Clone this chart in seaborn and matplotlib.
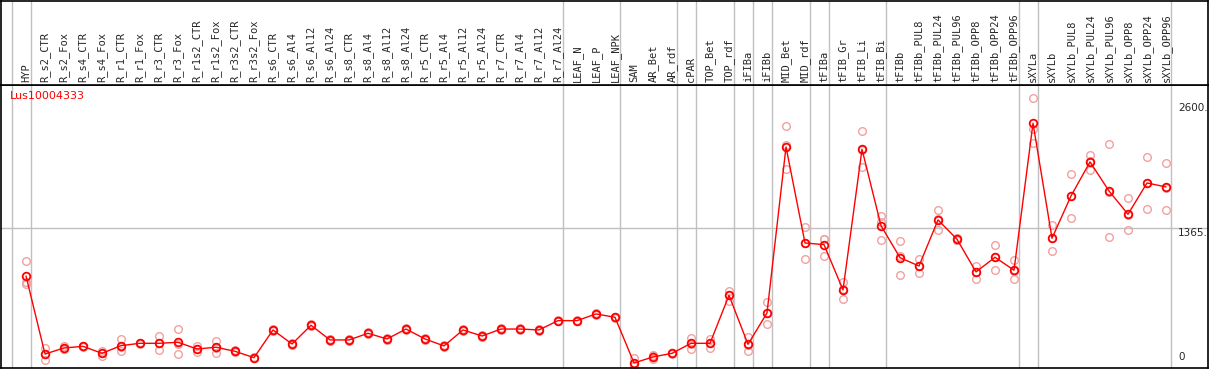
import pandas as pd
import matplotlib
matplotlib.use("Agg")
import matplotlib.pyplot as plt
import seaborn as sns

# column labels (tissues / treatments)
samples = ["HYP", "R_s2_CTR", "R_s2_Fox", "R_s4_CTR", "R_s4_Fox", "R_r1_CTR", "R_r1_Fox",
           "R_r3_CTR", "R_r3_Fox", "R_r1s2_CTR", "R_r1s2_Fox", "R_r3s2_CTR", "R_r3s2_Fox",
           "R_s6_CTR", "R_s6_Al4", "R_s6_Al12", "R_s6_Al24", "R_s8_CTR", "R_s8_Al4",
           "R_s8_Al12", "R_s8_Al24", "R_r5_CTR", "R_r5_Al4", "R_r5_Al12", "R_r5_Al24",
           "R_r7_CTR", "R_r7_Al4", "R_r7_Al12", "R_r7_Al24", "LEAF_N", "LEAF_P", "LEAF_NPK",
           "SAM", "AR_Bet", "AR_rdf", "cPAR", "TOP_Bet", "TOP_rdf", "iFIBa", "iFIBb",
           "MID_Bet", "MID_rdf", "tFIBa", "tFIB_Gr", "tFIB_Li", "tFIB_Bi", "tFIBb",
           "tFIBb_PUL8", "tFIBb_PUL24", "tFIBb_PUL96", "tFIBb_OPP8", "tFIBb_OPP24",
           "tFIBb_OPP96", "sXYLa", "sXYLb", "sXYLb_PUL8", "sXYLb_PUL24", "sXYLb_PUL96",
           "sXYLb_OPP8", "sXYLb_OPP24", "sXYLb_OPP96"]

# mean expression per sample
means = [894, 123, 183, 199, 130, 206, 229, 229, 239, 173, 190, 150, 87,
         361, 222, 407, 262, 262, 328, 272, 370, 272, 203, 361, 301, 370, 370, 361, 453,
         453, 519, 486, 35, 94, 130, 229, 229, 703, 219, 529, 2169, 1220, 1204, 756,
         2146, 1391, 1075, 993, 1448, 1257, 934, 1079, 951, 2403, 1267, 1685, 2021,
         1734, 1504, 1813, 1774]

# replicates
rep1 = [1039, 180, 206, 205, 156, 272, 236, 298, 370, 200, 252, 160, 95,
        370, 230, 415, 270, 268, 336, 280, 378, 280, 210, 368, 308, 377, 377, 368, 460,
        460, 526, 493, 81, 110, 138, 285, 272, 749, 295, 637, 2373, 1378, 1263, 838,
        2327, 1487, 1237, 1062, 1543, 1270, 996, 1201, 1049, 2650, 1395, 1902, 2093,
        2199, 1665, 2070, 2011]
rep2 = [812, 64, 170, 190, 104, 153, 222, 160, 120, 146, 136, 140, 80,
        352, 214, 400, 255, 256, 320, 265, 362, 264, 196, 354, 294, 363, 363, 354, 446,
        446, 512, 479, 0, 71, 122, 176, 186, 650, 153, 417, 1949, 1059, 1089, 664,
        1968, 1250, 901, 921, 1346, 1250, 868, 951, 861, 2206, 1138, 1464, 1942,
        1280, 1346, 1553, 1546]
rep3 = [838, 125, 173, 202, 130, 193, 229, 229, 227, 173, 182, 150, 86,
        361, 222, 406, 261, 262, 328, 271, 370, 272, 203, 361, 301, 370, 370, 361, 453,
        453, 519, 486, 24, 101, 130, 226, 229, 710, 210, 533, 2185, 1223, 1260, 766,
        2143, 1431, 1087, 996, 1455, 1251, 938, 1085, 943, 2344, 1268, 1689, 2028,
        1723, 1501, 1816, 1765]

# group separators sit just after these columns
sep_after = [-1, 0, 28, 31, 34, 35, 37, 38, 39, 41, 42, 45, 52, 53, 60]

gene = "Lus10004333"
ytick_vals = [0, 1365, 2600]
ytick_text = ["0", "1365.", "2600."]

n = len(samples)
df_mean = pd.DataFrame({"idx": range(n), "value": means})
df_rep = pd.DataFrame({
    "idx": list(range(n)) * 3,
    "value": rep1 + rep2 + rep3,
    "rep": ["a"] * n + ["b"] * n + ["c"] * n,
})

sns.set_style("white")
plt.rcParams["font.family"] = ["DejaVu Sans"]

W, H = 1209, 370
fig = plt.figure(figsize=(W / 100, H / 100), dpi=100)
ax = fig.add_axes([1 / W, 2 / H, 1207 / W, 283 / H])
lab = fig.add_axes([1 / W, 285 / H, 1207 / W, 84.5 / H])

xlim = (-1.316, 62.21)
grey = "#c0c0c0"

for a in (ax, lab):
    a.set_xlim(*xlim)
    a.set_xticks([])
    a.set_yticks([])
    for s in a.spines.values():
        s.set_color("black")
        s.set_linewidth(1.2)
    for k in sep_after:
        a.axvline(k + 0.25, color=grey, lw=1, zorder=0)

ax.set_ylim(-15, 2781)
lab.set_ylim(0, 1)
ax.axhline(1365, color=grey, lw=1, zorder=0)

# replicates
sns.lineplot(data=df_rep, x="idx", y="value", units="rep", estimator=None,
             linestyle="none", marker="o", markersize=5.5,
             markerfacecolor="none", markeredgecolor="#f2a0a0",
             markeredgewidth=1.0, ax=ax, legend=False)
# means
sns.lineplot(data=df_mean, x="idx", y="value", color="red", lw=1,
             marker="o", markersize=5.5, markerfacecolor="none",
             markeredgecolor="red", markeredgewidth=1.3, ax=ax, legend=False)
ax.set_xlabel("")
ax.set_ylabel("")

# sample labels
for i, name in enumerate(samples):
    lab.text(i, 0.03, name, rotation=90, ha="center", va="bottom",
             fontsize=7.5, family="DejaVu Sans Mono")

# value labels on the right
for v, t in zip(ytick_vals, ytick_text):
    if v == 0:
        ax.text(60.63, v + 40, t, ha="left", va="bottom", fontsize=7.5)
    else:
        ax.text(60.63, v, t, ha="left", va="top", fontsize=7.5)

ax.text(-0.85, 2720, gene, color="red", ha="left", va="top", fontsize=8)

fig.savefig("out.png", dpi=100)
